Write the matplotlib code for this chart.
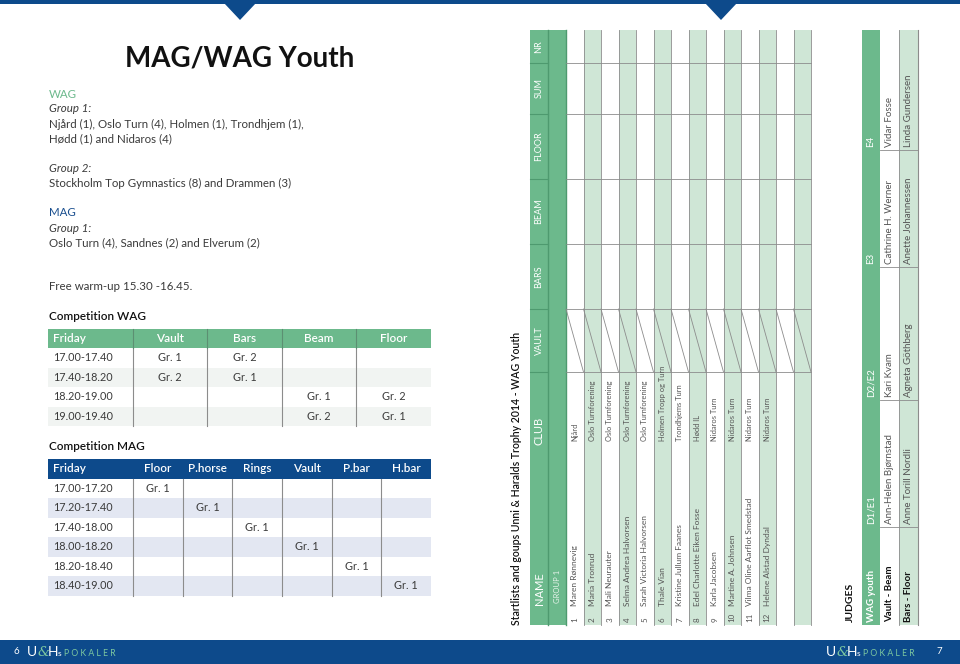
import matplotlib
matplotlib.use('Agg')
import matplotlib.pyplot as plt
from matplotlib.patches import Rectangle, Polygon

plt.rcParams['font.family'] = ['Lato', 'DejaVu Sans']

# colours
BLUE = '#0d4a8b'
GREEN = '#6cb98c'
LIGHT_GREEN = '#cfe6d6'
DARK_GREEN = '#4e9a6f'
LAVENDER = '#e3e7f2'
PALE = '#f1f4f2'
TEXT = '#3a3a3a'
GREY_TEXT = '#555555'
LINE = '#8c8c8c'

# ---- left page data ----
title = 'MAG/WAG Youth'
wag_group1 = ['Njård (1), Oslo Turn (4), Holmen (1), Trondhjem (1),', 'Hødd (1) and Nidaros (4)']
wag_group2 = ['Stockholm Top Gymnastics (8) and Drammen (3)']
mag_group1 = ['Oslo Turn (4), Sandnes (2) and Elverum (2)']
warmup = 'Free warm-up 15.30 -16.45.'

wag_events = ['Vault', 'Bars', 'Beam', 'Floor']
wag_times = ['17.00-17.40', '17.40-18.20', '18.20-19.00', '19.00-19.40']
wag_cells = [['Gr. 1', 'Gr. 2', '', ''],
             ['Gr. 2', 'Gr. 1', '', ''],
             ['', '', 'Gr. 1', 'Gr. 2'],
             ['', '', 'Gr. 2', 'Gr. 1']]

mag_events = ['Floor', 'P.horse', 'Rings', 'Vault', 'P.bar', 'H.bar']
mag_times = ['17.00-17.20', '17.20-17.40', '17.40-18.00', '18.00-18.20', '18.20-18.40', '18.40-19.00']
mag_cells = [['Gr. 1', '', '', '', '', ''],
             ['', 'Gr. 1', '', '', '', ''],
             ['', '', 'Gr. 1', '', '', ''],
             ['', '', '', 'Gr. 1', '', ''],
             ['', '', '', '', 'Gr. 1', ''],
             ['', '', '', '', '', 'Gr. 1']]

# ---- right page data ----
start_title = 'Startlists and goups Unni & Haralds Trophy 2014 - WAG Youth'
start_cols = ['NR', 'SUM', 'FLOOR', 'BEAM', 'BARS', 'VAULT']
gymnasts = ['Maren Rønnevig', 'Maria Tronrud', 'Mali Neurauter', 'Selma Andrea Halvorsen',
            'Sarah Victoria Halvorsen', 'Thale Vian', 'Kristine Jullum Faanes',
            'Edel Charlotte Eiken Fosse', 'Karla Jacobsen', 'Martine A. Johnsen',
            'Vilma Oline Aarflot Smedstad', 'Helene Alstad Dyndal']
clubs = ['Njård', 'Oslo Turnforening', 'Oslo Turnforening', 'Oslo Turnforening',
         'Oslo Turnforening', 'Holmen Tropp og Turn', 'Trondhjems Turn', 'Hødd IL',
         'Nidaros Turn', 'Nidaros Turn', 'Nidaros Turn', 'Nidaros Turn']

judge_cols = ['WAG youth', 'D1/E1', 'D2/E2', 'E3', 'E4']
judge_rows = [['Vault - Beam', 'Ann-Helen Bjørnstad', 'Kari Kvam', 'Cathrine H. Werner', 'Vidar Fosse'],
              ['Bars - Floor', 'Anne Torill Nordli', 'Agneta Göthberg', 'Anette Johannessen', 'Linda Gundersen']]


fig = plt.figure(figsize=(9.6, 6.64), dpi=100)
ax = fig.add_axes([0, 0, 1, 1])
ax.set_xlim(0, 960)
ax.set_ylim(664, 0)
ax.axis('off')

# top bar with the two notches
ax.add_patch(Rectangle((0, 0), 960, 4, color=BLUE, lw=0))
for cx in [240, 721]:
    ax.add_patch(Polygon([(cx - 16, 3), (cx + 16, 3), (cx, 20)], closed=True, color=BLUE, lw=0))

# footer
ax.add_patch(Rectangle((0, 640), 960, 24, color=BLUE, lw=0))


def logo(x, y):
    ax.text(x, y, 'U', color='white', fontsize=10, va='center', ha='left')
    ax.text(x + 10, y, '&', color='#7cc7a0', fontsize=9.5, va='center', ha='left', style='italic', family='DejaVu Serif')
    ax.text(x + 21, y, 'H', color='white', fontsize=10, va='center', ha='left')
    ax.text(x + 31, y + 2, 's', color='white', fontsize=6, va='center', ha='left')
    ax.text(x + 37, y + 1, 'P O K A L E R', color='#7cc7a0', fontsize=6.2, va='center', ha='left')


ax.text(13, 652, '6', color='white', fontsize=7, va='center', ha='left')
logo(27, 652)
logo(826, 652)
ax.text(936, 652, '7', color='white', fontsize=7, va='center', ha='left')

# ---- left page ----
ax.text(240, 58, title, fontsize=20, fontweight='bold', ha='center', va='center', color='#111111')

LX = 49
FS = 8.3
ax.text(LX, 94, 'WAG', fontsize=FS, color=GREEN, va='center')
ax.text(LX, 109, 'Group 1:', fontsize=FS, style='italic', color=TEXT, va='center')
for i, s in enumerate(wag_group1):
    ax.text(LX, 124 + 15 * i, s, fontsize=FS, color=TEXT, va='center')
ax.text(LX, 168, 'Group 2:', fontsize=FS, style='italic', color=TEXT, va='center')
ax.text(LX, 183, wag_group2[0], fontsize=FS, color=TEXT, va='center')
ax.text(LX, 212, 'MAG', fontsize=FS, color='#1a4f8f', va='center')
ax.text(LX, 228, 'Group 1:', fontsize=FS, style='italic', color=TEXT, va='center')
ax.text(LX, 243, mag_group1[0], fontsize=FS, color=TEXT, va='center')
ax.text(LX, 287, warmup, fontsize=FS, color=TEXT, va='center')


def schedule(top, edges, events, times, cells, head_col, alt_col, sep_head):
    rh = 19.5
    x0, x1 = edges[0], edges[-1]
    ax.add_patch(Rectangle((x0, top), x1 - x0, rh, color=head_col, lw=0))
    ax.text(x0 + 5, top + rh / 2, 'Friday', color='white', fontsize=8.5, fontweight='semibold', va='center')
    for j, ev in enumerate(events):
        xc = (edges[j + 1] + edges[j + 2]) / 2
        ax.text(xc, top + rh / 2, ev, color='white', fontsize=8.5, fontweight='semibold', va='center', ha='center')
    for i, t in enumerate(times):
        y = top + rh * (i + 1)
        if i % 2 == 1:
            ax.add_patch(Rectangle((x0, y), x1 - x0, rh, color=alt_col, lw=0))
        ax.text(x0 + 5, y + rh / 2, t, color=TEXT, fontsize=7.8, va='center')
        for j, c in enumerate(cells[i]):
            xc = (edges[j + 1] + edges[j + 2]) / 2
            ax.text(xc, y + rh / 2, c, color=TEXT, fontsize=7.8, va='center', ha='center')
    bottom = top + rh * (len(times) + 1)
    for e in edges[1:-1]:
        ax.plot([e, e], [top + rh, bottom], color=LINE, lw=0.8)
        if sep_head:
            ax.plot([e, e], [top, top + rh], color='#5c8f72', lw=0.8)


ax.text(LX, 317, 'Competition WAG', fontsize=8.5, fontweight='semibold', color='#111111', va='center')
schedule(328.5, [48, 133, 207, 282, 356, 431], wag_events, wag_times, wag_cells, GREEN, PALE, True)

ax.text(LX, 447, 'Competition MAG', fontsize=8.5, fontweight='semibold', color='#111111', va='center')
schedule(459, [48, 133, 183, 232, 282, 332, 381, 431], mag_events, mag_times, mag_cells, BLUE, LAVENDER, False)

# ---- right page: rotated start list ----
ax.text(517, 625, start_title, rotation=90, fontsize=7.6, fontweight='semibold', color='#111111',
        ha='center', va='bottom')

T0, T1 = 30, 625          # vertical extent (columns run along y)
X0, XG, XR = 530, 548, 566  # header, group column, first row
RW = 17.5
nrows = len(gymnasts) + 2
XE = XR + RW * nrows
col_edges = [30, 63, 114, 179, 244, 309, 372]

ax.add_patch(Rectangle((X0, T0), XR - X0, T1 - T0, color=GREEN, lw=0))
ax.plot([XG, XG], [T0, T1], color=DARK_GREEN, lw=1)
ax.plot([XR, XR], [T0, T1], color=DARK_GREEN, lw=1)
for i in range(nrows):
    x = XR + RW * i
    if i % 2 == 1:
        ax.add_patch(Rectangle((x, T0), RW, T1 - T0, color=LIGHT_GREEN, lw=0))
    ax.plot([x + RW, x + RW], [T0, T1], color=LINE, lw=0.6)
    # vault is crossed out
    ax.plot([x, x + RW], [col_edges[5], col_edges[6]], color=LINE, lw=0.6)

for k, lab in enumerate(start_cols):
    yc = (col_edges[k] + col_edges[k + 1]) / 2
    ax.text((X0 + XG) / 2, yc, lab, rotation=90, color='white', fontsize=6.5, ha='center', va='center')
    ax.plot([X0, XG], [col_edges[k + 1]] * 2, color=DARK_GREEN, lw=0.8)
    ax.plot([XR, XE], [col_edges[k + 1]] * 2, color=LINE, lw=0.6)

ax.text((X0 + XG) / 2, 445, 'CLUB', rotation=90, color='white', fontsize=8, ha='center', va='bottom')
ax.text((X0 + XG) / 2, 605, 'NAME', rotation=90, color='white', fontsize=8, ha='center', va='bottom')
ax.text((XG + XR) / 2, 603, 'GROUP 1', rotation=90, color='#e8f4ec', fontsize=5.5, ha='center', va='bottom')

for i, (g, c) in enumerate(zip(gymnasts, clubs)):
    xc = XR + RW * i + RW / 2
    ax.text(xc, 622, str(i + 1), rotation=90, color=GREY_TEXT, fontsize=5.8, ha='center', va='bottom')
    ax.text(xc, 606, g, rotation=90, color=GREY_TEXT, fontsize=6, ha='center', va='bottom')
    ax.text(xc, 441, c, rotation=90, color=GREY_TEXT, fontsize=5.4, ha='center', va='bottom')

# ---- judges ----
ax.text(850, 622, 'JUDGES', rotation=90, fontsize=7.5, fontweight='bold', color='#111111', ha='center', va='bottom')
JX = [862, 880, 899, 918]
j_edges = [625, 527, 400, 267, 150, 30]
ax.add_patch(Rectangle((JX[0], 30), JX[1] - JX[0], 595, color=GREEN, lw=0))
ax.add_patch(Rectangle((JX[2], 30), JX[3] - JX[2], 595, color=LIGHT_GREEN, lw=0))
ax.plot([JX[2], JX[2]], [30, 625], color=LINE, lw=0.6)
ax.plot([JX[3], JX[3]], [30, 625], color=LINE, lw=0.8)
for k, lab in enumerate(judge_cols):
    ax.text((JX[0] + JX[1]) / 2, j_edges[k] - 3, lab, rotation=90, color='white', fontsize=7,
            fontweight='bold' if k == 0 else 'normal', ha='center', va='bottom')
    if 0 < k:
        ax.plot([JX[1], JX[3]], [j_edges[k]] * 2, color=LINE, lw=0.6)
for r, row in enumerate(judge_rows):
    xc = (JX[r + 1] + JX[r + 2]) / 2
    for k, val in enumerate(row):
        ax.text(xc, j_edges[k] - 3, val, rotation=90, color='#111111' if k == 0 else GREY_TEXT, fontsize=7,
                fontweight='bold' if k == 0 else 'normal', ha='center', va='bottom')

fig.savefig('out.png', dpi=100)
